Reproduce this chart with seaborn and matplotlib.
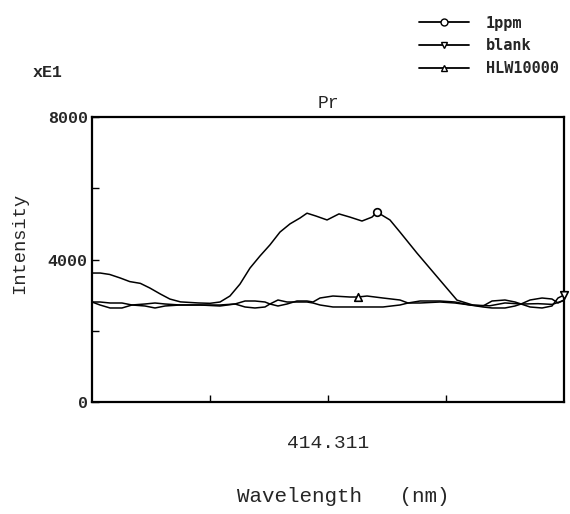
import numpy as np
import pandas as pd
import matplotlib
matplotlib.use("Agg")
import matplotlib.pyplot as plt
import seaborn as sns
from matplotlib.lines import Line2D

sns.set_theme(style="white")
plt.rcParams['font.family'] = ['Liberation Mono', 'DejaVu Sans Mono']

# wavelength offset (arbitrary units, centre = 414.311 nm)
x_1ppm = [-20.0, -19.3, -18.5, -17.6, -16.8, -15.9, -15.1, -14.2, -13.4, -12.5,
          -11.0, -10.0, -9.15, -8.31, -7.46, -6.61, -5.76, -4.92, -4.07, -3.22,
          -2.37, -1.78, -1.02, -0.08, 0.93, 1.86, 2.88, 3.73, 4.15, 5.25,
          6.10, 7.54, 9.49, 10.93, 12.29, 13.7, 15.0, 16.4, 17.8, 19.0, 20.0]
y_1ppm = [3620, 3620, 3580, 3480, 3380, 3330, 3200, 3030, 2890, 2810,
          2780, 2770, 2807, 2975, 3310, 3760, 4100, 4410, 4770, 5000,
          5165, 5300, 5220, 5110, 5280, 5190, 5080, 5190, 5330, 5110,
          4770, 4180, 3420, 2860, 2720, 2700, 2780, 2750, 2760, 2740, 2850]

x_base = [-20.00, -19.32, -18.47, -17.46, -16.61, -15.51, -14.66, -13.81, -12.54, -10.85,
          -9.15, -7.88, -7.03, -6.19, -5.34, -4.92, -4.24, -3.47, -2.63, -1.78,
          -1.27, -0.68, 0.42, 1.86, 2.54, 3.31, 4.66, 6.10, 6.78, 7.80,
          9.49, 10.76, 12.03, 13.14, 13.90, 15.00, 15.85, 16.36, 17.12, 18.14,
          18.98, 19.49, 20.00]
y_blank = [2807, 2807, 2779, 2779, 2723, 2695, 2639, 2695, 2723, 2723,
           2723, 2751, 2667, 2639, 2667, 2751, 2863, 2807, 2807, 2807,
           2779, 2723, 2667, 2667, 2667, 2667, 2667, 2723, 2779, 2779,
           2807, 2779, 2723, 2695, 2835, 2863, 2807, 2751, 2667, 2639,
           2695, 2919, 3003]
y_hlw = [2807, 2723, 2639, 2639, 2723, 2751, 2779, 2751, 2723, 2723,
         2695, 2751, 2835, 2835, 2807, 2751, 2695, 2751, 2835, 2835,
         2807, 2919, 2975, 2947, 2947, 2975, 2919, 2863, 2779, 2835,
         2835, 2807, 2723, 2667, 2639, 2639, 2695, 2751, 2863, 2919,
         2891, 2779, 2863]

series_names = ["1ppm", "blank", "HLW10000"]
series_markers = ["o", "v", "^"]
marker_index = [28, 42, 24]
center_label = "414.311"
y_ticks = [0, 4000, 8000]
y_minor = [2000, 6000]
x_ticks = [-10, 0, 10]

frames = [
    pd.DataFrame({"offset": x_1ppm, "intensity": y_1ppm, "series": series_names[0]}),
    pd.DataFrame({"offset": x_base, "intensity": y_blank, "series": series_names[1]}),
    pd.DataFrame({"offset": x_base, "intensity": y_hlw, "series": series_names[2]}),
]
df = pd.concat(frames, ignore_index=True)

fig = plt.figure(figsize=(5.7, 5.14), dpi=100)
ax = fig.add_axes([92 / 570, 1 - 402 / 514, 472 / 570, 285 / 514])

sns.lineplot(data=df, x="offset", y="intensity", hue="series",
             palette=["black"] * 3, sort=False, estimator=None,
             linewidth=1.1, legend=False, ax=ax)

for f, m, idx in zip(frames, series_markers, marker_index):
    pt = f.iloc[[idx]]
    sns.scatterplot(data=pt, x="offset", y="intensity", marker=m, s=30,
                    facecolor="white", edgecolor="black", linewidth=1.2,
                    legend=False, ax=ax, zorder=5, clip_on=False)

ax.set_xlim(-20, 20)
ax.set_ylim(0, 8000)
for sp in ax.spines.values():
    sp.set_visible(True)
    sp.set_color("black")
    sp.set_linewidth(1.6)

ax.set_yticks(y_ticks)
ax.set_yticks(y_minor, minor=True)
ax.set_yticklabels([str(v) for v in y_ticks], fontsize=12, fontweight="bold")
ax.set_xticks(x_ticks)
ax.set_xticklabels(["", center_label, ""], fontsize=14)
ax.tick_params(axis="both", which="both", direction="in", color="black",
               width=1.0, length=5, left=True, bottom=True)
ax.tick_params(axis="x", pad=24)
ax.tick_params(axis="y", pad=3)
ax.set_xlabel("")
ax.set_ylabel("")

fig.text(328 / 570, 1 - 104 / 514, "Pr", ha="center", va="center", fontsize=13)
fig.text(20 / 570, 1 - 243 / 514, "Intensity", rotation=90, ha="center",
         va="center", fontsize=13.5)
fig.text(48 / 570, 1 - 73 / 514, "xE1", ha="center", va="center", fontsize=12,
         fontweight="bold")
fig.text(343 / 570, 1 - 497 / 514, "Wavelength   (nm)", ha="center",
         va="center", fontsize=15)

handles = [Line2D([0], [0], color="black", lw=1.3, marker=m, markersize=5,
                  markerfacecolor="white", markeredgecolor="black")
           for m in series_markers]
leg = fig.legend(handles, series_names, loc="upper left",
                 bbox_to_anchor=(405 / 570, 1 - 2 / 514), frameon=False,
                 handlelength=3.3, handletextpad=1.1, labelspacing=0.5,
                 prop={"family": "DejaVu Sans Mono", "size": 11, "weight": "bold"})

fig.savefig("out.png", dpi=100)
